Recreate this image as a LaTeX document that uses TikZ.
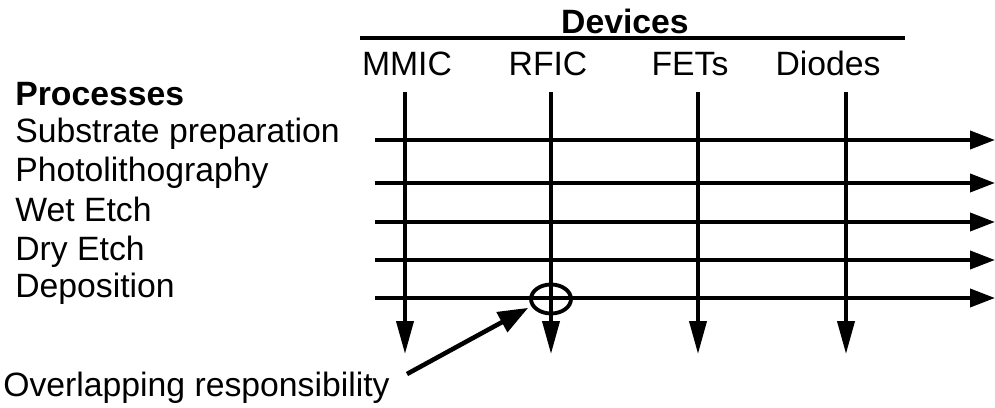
\documentclass[tikz,border=0pt]{standalone}
\usepackage{fontspec}
\setmainfont{Liberation Sans}
\usetikzlibrary{arrows.meta,shapes.geometric}

\tikzset{
  lbl/.style={inner sep=0pt, font=\fontsize{19.2}{21}\selectfont},
  procline/.style={line width=2.2pt, -{Triangle[length=0.5cm, width=0.36cm]}},
  devline/.style={line width=2.2pt, -{Triangle[length=0.66cm, width=0.34cm]}},
}

\begin{document}
\begin{tikzpicture}[x=0.02cm, y=-0.02cm]
  \useasboundingbox (0,0) rectangle (995,408);

  % 上方器件标题与横线
  \coordinate (DL) at (360,38);
  \coordinate (DR) at (905,38);
  \draw[line width=2.2pt] (DL) -- (DR);
  \node[lbl, font=\fontsize{19.2}{21}\selectfont\bfseries, anchor=base] (devices) at (625,34) {Devices};

  % 器件列
  \node[lbl, anchor=base] (mmic)   at (407,76) {MMIC};
  \node[lbl, anchor=base] (rfic)   at (548,76) {RFIC};
  \node[lbl, anchor=base] (fets)   at (690,76) {FETs};
  \node[lbl, anchor=base] (diodes) at (828,76) {Diodes};

  \coordinate (M0) at (405,92);  \coordinate (M1) at (405,354);
  \coordinate (R0) at (551,92);  \coordinate (R1) at (551,354);
  \coordinate (F0) at (698,92);  \coordinate (F1) at (698,354);
  \coordinate (D0) at (846,92);  \coordinate (D1) at (846,354);

  % 左侧工艺标题
  \node[lbl, font=\fontsize{19.2}{21}\selectfont\bfseries, anchor=base west] (procs) at (15,106) {Processes};
  \node[lbl, anchor=base west] (sub)   at (15,143) {Substrate preparation};
  \node[lbl, anchor=base west] (photo) at (15,182) {Photolithography};
  \node[lbl, anchor=base west] (wet)   at (15,222) {Wet Etch};
  \node[lbl, anchor=base west] (dry)   at (15,261) {Dry Etch};
  \node[lbl, anchor=base west] (dep)   at (15,298) {Deposition};

  % 工艺横线
  \coordinate (S0) at (375,140); \coordinate (S1) at (995,140);
  \coordinate (P0) at (375,183); \coordinate (P1) at (995,183);
  \coordinate (W0) at (375,222); \coordinate (W1) at (995,222);
  \coordinate (Y0) at (375,260); \coordinate (Y1) at (995,260);
  \coordinate (E0) at (375,298); \coordinate (E1) at (995,298);

  \draw[procline] (S0) -- (S1);
  \draw[procline] (P0) -- (P1);
  \draw[procline] (W0) -- (W1);
  \draw[procline] (Y0) -- (Y1);
  \draw[procline] (E0) -- (E1);

  \draw[devline] (M0) -- (M1);
  \draw[devline] (R0) -- (R1);
  \draw[devline] (F0) -- (F1);
  \draw[devline] (D0) -- (D1);

  % 交叠处的圈
  \node[ellipse, draw, line width=2.2pt, minimum width=0.8cm, minimum height=0.58cm, inner sep=0pt] (ovl) at (551,299) {};

  % 说明文字与指示箭头
  \node[lbl, anchor=base west] (note) at (3,397) {Overlapping responsibility};
  \coordinate (A0) at (407,374);
  \draw[line width=2.6pt, -{Triangle[length=0.6cm, width=0.44cm]}, shorten >=2pt] (A0) -- (ovl.200);
\end{tikzpicture}
\end{document}
